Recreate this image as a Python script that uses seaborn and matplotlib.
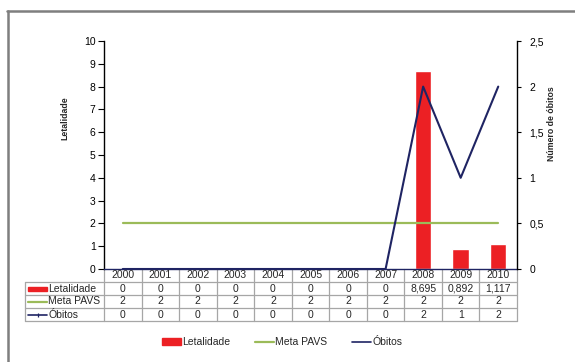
import matplotlib
matplotlib.use("Agg")
import matplotlib.pyplot as plt
from matplotlib.lines import Line2D
from matplotlib.patches import Patch, Rectangle
import numpy as np
import pandas as pd
import seaborn as sns

# ---- data -------------------------------------------------------------
anos = ["2000", "2001", "2002", "2003", "2004", "2005",
        "2006", "2007", "2008", "2009", "2010"]
letalidade = [0, 0, 0, 0, 0, 0, 0, 0, 8.695, 0.892, 1.117]
meta_pavs = [2, 2, 2, 2, 2, 2, 2, 2, 2, 2, 2]
obitos = [0, 0, 0, 0, 0, 0, 0, 0, 2, 1, 2]

ticks_esq = [0, 1, 2, 3, 4, 5, 6, 7, 8, 9, 10]
ticks_dir = [0, 0.5, 1, 1.5, 2, 2.5]
rotulos_dir = ["0", "0,5", "1", "1,5", "2", "2,5"]

COR_LET = "#EC2024"
COR_META = "#9BBB59"
COR_OBI = "#1F2463"
COR_GRADE = "#A6A6A6"

sns.set_style("white")
plt.rcParams["font.family"] = ["Liberation Sans", "DejaVu Sans"]

df = pd.DataFrame({"pos": np.arange(len(anos)), "ano": anos,
                   "letalidade": letalidade, "meta": meta_pavs,
                   "obitos": obitos})

W, H = 575, 362
fig = plt.figure(figsize=(W / 100, H / 100), dpi=100)
x0, x1, y0, y1 = 104, 517, 269, 41
ax = fig.add_axes([x0 / W, 1 - y0 / H, (x1 - x0) / W, (y0 - y1) / H])
ax2 = ax.twinx()

# bars and target line on the left axis
sns.barplot(data=df, x="pos", y="letalidade", ax=ax, color=COR_LET,
            width=0.44, saturation=1, native_scale=True, zorder=2)
sns.lineplot(data=df, x="pos", y="meta", ax=ax, color=COR_META,
             linewidth=1.6, zorder=3)
# deaths on the right axis
sns.lineplot(data=df, x="pos", y="obitos", ax=ax2, color=COR_OBI,
             linewidth=1.5, zorder=4)

n = len(anos)
for a in (ax, ax2):
    a.set_xlim(-0.5, n - 0.5)
    a.set_xlabel("")
    a.set_ylabel("")
    a.set_xticks([])
ax.set_ylim(0, 10)
ax2.set_ylim(0, 2.5)
ax.set_yticks(ticks_esq)
ax.set_yticklabels([str(t) for t in ticks_esq])
ax2.set_yticks(ticks_dir)
ax2.set_yticklabels(rotulos_dir)

for a in (ax, ax2):
    a.spines["top"].set_visible(False)
    a.spines["left"].set_color("black")
    a.spines["right"].set_color("black")
    a.spines["bottom"].set_color(COR_OBI)
    for s in a.spines.values():
        s.set_linewidth(1.0)
ax.spines["right"].set_visible(False)
ax2.spines["left"].set_visible(False)
ax2.spines["bottom"].set_visible(False)

ax.tick_params(axis="y", which="both", direction="out", length=4, width=0.8,
               left=True, labelsize=7.5, pad=2, colors="black")
ax2.tick_params(axis="y", which="both", direction="out", length=3, width=0.8,
                right=True, labelsize=7.5, pad=6, colors="black")

fig.text(65 / W, 1 - 118 / H, "Letalidade", rotation=90, fontsize=6.3,
         fontweight="bold", ha="center", va="center")
fig.text(552 / W, 1 - 124 / H, "Número de óbitos", rotation=90, fontsize=6.3,
         fontweight="bold", ha="center", va="center")

# ---- data table under the plot ---------------------------------------
tr = ax.get_xaxis_transform()
ph = y0 - y1  # axes height in px


def fy(py):
    return (y0 - py) / ph


def fx(px):
    return (px - x0) / ((x1 - x0) / n) - 0.5


linhas = [269, 282, 295, 308, 321]
xl = fx(25)
kw = dict(transform=tr, clip_on=False, color=COR_GRADE, linewidth=0.9,
          zorder=1)
for py in linhas[1:]:
    ax.add_line(Line2D([xl, n - 0.5], [fy(py), fy(py)], **kw))
for i in range(n + 1):
    ax.add_line(Line2D([i - 0.5, i - 0.5], [fy(269), fy(321)], **kw))
ax.add_line(Line2D([xl, xl], [fy(282), fy(321)], **kw))


def fmt(v):
    if v == 0:
        return "0"
    if float(v).is_integer():
        return str(int(v))
    return f"{v:.3f}".replace(".", ",")


tk = dict(transform=tr, ha="center", va="center", fontsize=7.5,
          clip_on=False)
for i, ano in enumerate(anos):
    ax.text(i, fy(275.5), ano, **tk)
    ax.text(i, fy(288.5), fmt(letalidade[i]), **tk)
    ax.text(i, fy(301.5), fmt(meta_pavs[i]), **tk)
    ax.text(i, fy(314.5), fmt(obitos[i]), **tk)

# row headers with series keys
sx0, sx1, tx = fx(28), fx(47), fx(48.5)
ax.add_patch(Rectangle((sx0, fy(291)), sx1 - sx0, fy(286.5) - fy(291),
                       transform=tr, clip_on=False, color=COR_LET))
ax.add_line(Line2D([sx0, sx1], [fy(301.5), fy(301.5)], transform=tr,
                   clip_on=False, color=COR_META, linewidth=1.6))
ax.add_line(Line2D([sx0, sx1], [fy(314.5), fy(314.5)], transform=tr,
                   clip_on=False, color=COR_OBI, linewidth=1.2))
ax.add_line(Line2D([(sx0 + sx1) / 2], [fy(314.5)], transform=tr,
                   clip_on=False, color=COR_OBI, marker="|", markersize=3,
                   markeredgewidth=0.9))
lk = dict(transform=tr, ha="left", va="center", fontsize=7.5, clip_on=False)
ax.text(tx, fy(288.5), "Letalidade", **lk)
ax.text(tx, fy(301.5), "Meta PAVS", **lk)
ax.text(tx, fy(314.5), "Óbitos", **lk)

# ---- legend -------------------------------------------------------------
handles = [Patch(color=COR_LET),
           Line2D([], [], color=COR_META, linewidth=1.6),
           Line2D([], [], color=COR_OBI, linewidth=1.2)]
fig.legend(handles, ["Letalidade", "Meta PAVS", "Óbitos"], ncol=3,
           loc="center", bbox_to_anchor=(282 / W, 1 - 342 / H),
           frameon=False, fontsize=7.5, handlelength=1.9, handleheight=0.6,
           handletextpad=0.1, columnspacing=2.3, borderpad=0)

# ---- outer frame --------------------------------------------------------
fig.add_artist(Line2D([7 / W, 1], [1 - 11 / H, 1 - 11 / H],
                      transform=fig.transFigure, color="#7F7F7F",
                      linewidth=1.8))
fig.add_artist(Line2D([8 / W, 8 / W], [1 - 11 / H, 0],
                      transform=fig.transFigure, color="#7F7F7F",
                      linewidth=1.8))

fig.savefig("out.png", dpi=100)
